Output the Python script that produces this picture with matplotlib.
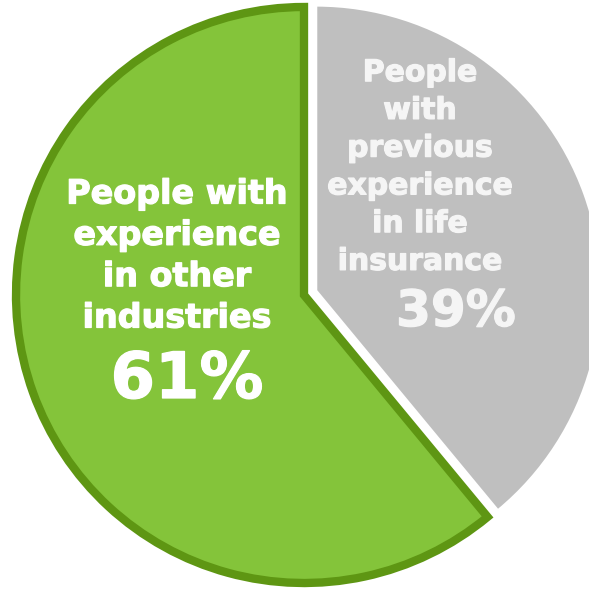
import matplotlib.pyplot as plt
import matplotlib.patheffects as pe

# slice values (clockwise from 12 o'clock)
labels = ["People\nwith\nprevious\nexperience\nin life\ninsurance",
          "People with\nexperience\nin other\nindustries"]
shares = [39, 61]
pct_text = ["39%", "61%"]
colors = ["#BFBFBF", "#84C43A"]

W, H = 589, 592
fig = plt.figure(figsize=(W / 100, H / 100), dpi=100)
ax = fig.add_axes([0, 0, 1, 1])

# explode is an absolute offset here (pixels)
wedges, _ = ax.pie(shares, colors=colors, startangle=90, counterclock=False,
                   radius=288, center=(304, 297), explode=[13, 0],
                   frame=True)
wedges[0].set_edgecolor("white")
wedges[0].set_linewidth(1.5)
wedges[0].set_radius(285)
wedges[1].set_edgecolor("#5E9613")
wedges[1].set_linewidth(6)
wedges[1].set_joinstyle("miter")

ax.set_xlim(0, W)
ax.set_ylim(0, H)
ax.set_aspect("equal")
ax.axis("off")

def thick(c):
    return [pe.withStroke(linewidth=0.9, foreground=c)]

gray_txt = "#F5F5F5"
ax.text(420, H - 167, labels[0], ha="center", va="center", color=gray_txt,
        fontsize=21.5, fontweight="bold", linespacing=1.38,
        path_effects=thick(gray_txt))
ax.text(456, H - 312, pct_text[0], ha="center", va="center", color=gray_txt,
        fontsize=36, fontweight="bold", path_effects=thick(gray_txt))
ax.text(177, H - 256, labels[1], ha="center", va="center", color="white",
        fontsize=24, fontweight="bold", linespacing=1.32,
        path_effects=thick("white"))
ax.text(187, H - 380, pct_text[1], ha="center", va="center", color="white",
        fontsize=46, fontweight="bold", path_effects=thick("white"))

fig.savefig("out.png", dpi=100)
